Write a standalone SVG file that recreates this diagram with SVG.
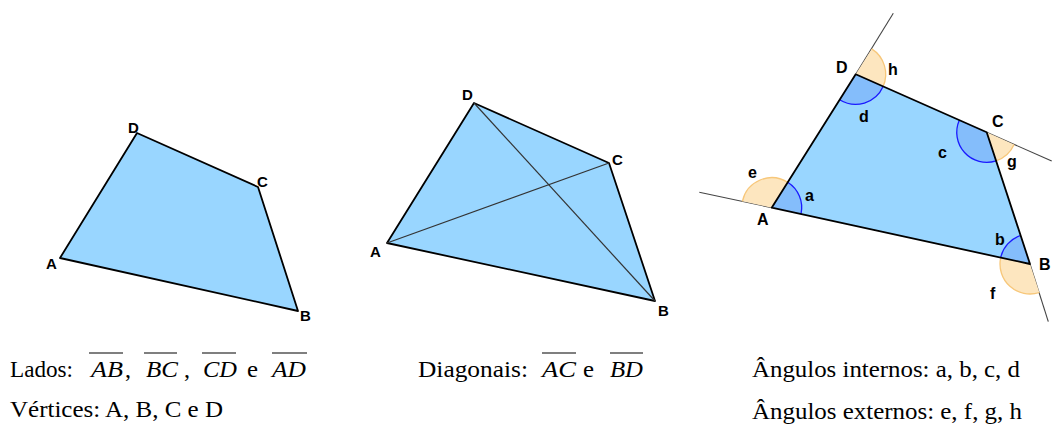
<svg xmlns="http://www.w3.org/2000/svg" width="1052" height="425" viewBox="0 0 1052 425">
<style>
.poly{fill:#99d6ff;stroke:#000;stroke-width:1.8;stroke-linejoin:round}
.diag{stroke:#333;stroke-width:1.2;fill:none}
.ext{stroke:#444;stroke-width:1.1;fill:none}
.lbl{font-family:"Liberation Sans",Arial,sans-serif;font-weight:bold;font-size:15px;fill:#000}
.lbl3{font-family:"Liberation Sans",Arial,sans-serif;font-weight:bold;font-size:16px;fill:#000}
.inF{fill:#84bdfb;stroke:none}
.inS{fill:none;stroke:#1a1aff;stroke-width:1.3}
.exF{fill:#fde6bf;stroke:none}
.exS{fill:none;stroke:#f7c77a;stroke-width:1.3}
.t{font-family:"Liberation Serif","Times New Roman",serif;font-size:24px;fill:#000}
.ti{font-family:"Liberation Serif","Times New Roman",serif;font-size:24px;font-style:italic;fill:#000}
.ov{stroke:#000;stroke-width:1.2}
</style>
<rect width="1052" height="425" fill="#fff"/>

<g id="fig-lados">
<polygon class="poly" points="60,258 298,311 258,187 137,133"/>
<text class="lbl" x="128" y="133">D</text>
<text class="lbl" x="257" y="187">C</text>
<text class="lbl" x="46" y="269">A</text>
<text class="lbl" x="300" y="321">B</text>
</g>

<g id="fig-diagonais">
<polygon class="poly" points="387,243 655,301 609,163 474,103"/>
<g id="connectors">
<line class="diag" x1="387" y1="243" x2="609" y2="163"/>
<line class="diag" x1="474" y1="103" x2="655" y2="301"/>
</g>
<text class="lbl" x="462" y="100">D</text>
<text class="lbl" x="612" y="165">C</text>
<text class="lbl" x="370" y="257">A</text>
<text class="lbl" x="658" y="316">B</text>
</g>

<g id="fig-angulos">
<line class="ext" x1="699.3" y1="192.3" x2="771.7" y2="207.7"/>
<line class="ext" x1="855.7" y1="74.3" x2="893.3" y2="13.3"/>
<line class="ext" x1="986.7" y1="132.3" x2="1051.7" y2="161"/>
<line class="ext" x1="1030" y1="264" x2="1048.3" y2="321.7"/>
<polygon points="771.7,207.7 1030,264 986.7,132.3 855.7,74.3" fill="#99d6ff"/>
<path class="exF" d="M771.7,207.7 L742.4,201.3 A30,30 0 0 1 787.7,182.3 Z"/>
<path class="exS" d="M742.4,201.3 A30,30 0 0 1 787.7,182.3"/>
<path class="exF" d="M1030,264 L1039.4,292.5 A30,30 0 0 1 1000.7,257.6 Z"/>
<path class="exS" d="M1039.4,292.5 A30,30 0 0 1 1000.7,257.6"/>
<path class="exF" d="M986.7,132.3 L1014.1,144.5 A30,30 0 0 1 996.1,160.8 Z"/>
<path class="exS" d="M1014.1,144.5 A30,30 0 0 1 996.1,160.8"/>
<path class="exF" d="M855.7,74.3 L871.7,48.9 A30,30 0 0 1 883.1,86.5 Z"/>
<path class="exS" d="M871.7,48.9 A30,30 0 0 1 883.1,86.5"/>
<path class="inF" d="M771.7,207.7 L787.7,182.3 A30,30 0 0 1 801,214.1 Z"/>
<path class="inS" d="M787.7,182.3 A30,30 0 0 1 801,214.1"/>
<path class="inF" d="M1030,264 L1000.7,257.6 A30,30 0 0 1 1020.6,235.5 Z"/>
<path class="inS" d="M1000.7,257.6 A30,30 0 0 1 1020.6,235.5"/>
<path class="inF" d="M986.7,132.3 L996.1,160.8 A30,30 0 0 1 959.3,120.2 Z"/>
<path class="inS" d="M996.1,160.8 A30,30 0 0 1 959.3,120.2"/>
<path class="inF" d="M855.7,74.3 L883.1,86.5 A30,30 0 0 1 839.7,99.7 Z"/>
<path class="inS" d="M883.1,86.5 A30,30 0 0 1 839.7,99.7"/>
<polygon points="771.7,207.7 1030,264 986.7,132.3 855.7,74.3" fill="none" stroke="#000" stroke-width="1.8" stroke-linejoin="round"/>
<text class="lbl3" x="836" y="73">D</text>
<text class="lbl3" x="992" y="127">C</text>
<text class="lbl3" x="757" y="225">A</text>
<text class="lbl3" x="1039" y="270">B</text>
<text class="lbl3" x="805" y="201">a</text>
<text class="lbl3" x="995" y="245">b</text>
<text class="lbl3" x="938" y="158">c</text>
<text class="lbl3" x="859" y="122">d</text>
<text class="lbl3" x="748" y="178">e</text>
<text class="lbl3" x="990" y="299">f</text>
<text class="lbl3" x="1007" y="167">g</text>
<text class="lbl3" x="888" y="75">h</text>
</g>

<g id="captions">
<text class="t" x="10" y="377" textLength="63" lengthAdjust="spacingAndGlyphs">Lados:</text>
<text class="ti" x="91" y="377" textLength="32" lengthAdjust="spacingAndGlyphs">AB</text>
<line class="ov" x1="89" y1="353" x2="123" y2="353"/>
<text class="t" x="125" y="377">,</text>
<text class="ti" x="146" y="377" textLength="32" lengthAdjust="spacingAndGlyphs">BC</text>
<line class="ov" x1="144" y1="353" x2="177" y2="353"/>
<text class="t" x="184" y="377">,</text>
<text class="ti" x="203" y="377" textLength="34" lengthAdjust="spacingAndGlyphs">CD</text>
<line class="ov" x1="202" y1="353" x2="236" y2="353"/>
<text class="t" x="247" y="377" textLength="11" lengthAdjust="spacingAndGlyphs">e</text>
<text class="ti" x="272" y="377" textLength="34" lengthAdjust="spacingAndGlyphs">AD</text>
<line class="ov" x1="272" y1="353" x2="307" y2="353"/>

<text class="t" x="418" y="377" textLength="110" lengthAdjust="spacingAndGlyphs">Diagonais:</text>
<text class="ti" x="542" y="377" textLength="34" lengthAdjust="spacingAndGlyphs">AC</text>
<line class="ov" x1="542" y1="353" x2="576" y2="353"/>
<text class="t" x="583" y="377" textLength="11" lengthAdjust="spacingAndGlyphs">e</text>
<text class="ti" x="610" y="377" textLength="33" lengthAdjust="spacingAndGlyphs">BD</text>
<line class="ov" x1="610" y1="353" x2="643" y2="353"/>

<text class="t" x="752" y="377" textLength="268" lengthAdjust="spacingAndGlyphs">Ângulos internos: a, b, c, d</text>
<text class="t" x="10" y="417" textLength="213" lengthAdjust="spacingAndGlyphs">Vértices: A, B, C e D</text>
<text class="t" x="752" y="419" textLength="270" lengthAdjust="spacingAndGlyphs">Ângulos externos: e, f, g, h</text>
</g>
</svg>
